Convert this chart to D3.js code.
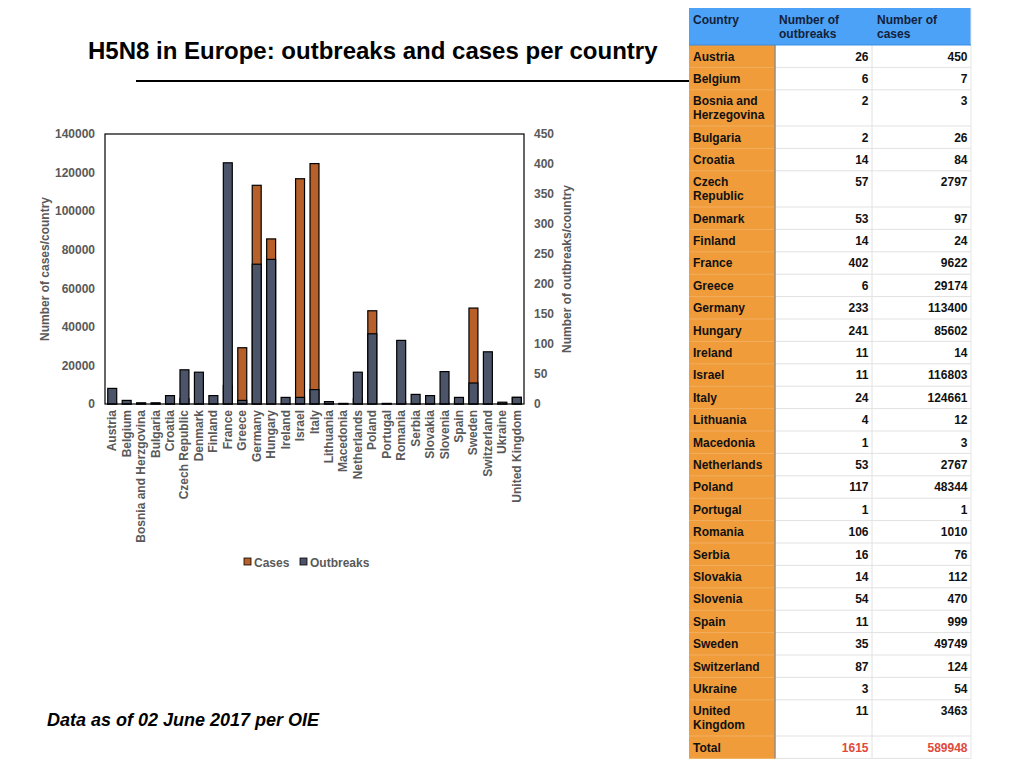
<!DOCTYPE html>
<html>
<head>
<meta charset="utf-8">
<script src="https://cdn.jsdelivr.net/npm/d3@7/dist/d3.min.js"></script>
<style>
  html, body { margin: 0; padding: 0; background: #fff; }
  svg { display: block; font-family: "Liberation Sans", Arial, Helvetica, sans-serif; }
</style>
</head>
<body>
<svg id="chart" width="1024" height="768"></svg>
<script>
// ---------------- DATA ----------------
const countries = ["Austria","Belgium","Bosnia and Herzgovina","Bulgaria","Croatia","Czech Republic","Denmark","Finland","France","Greece","Germany","Hungary","Ireland","Israel","Italy","Lithuania","Macedonia","Netherlands","Poland","Portugal","Romania","Serbia","Slovakia","Slovenia","Spain","Sweden","Switzerland","Ukraine","United Kingdom"];
const tableCountries = ["Austria","Belgium","Bosnia and Herzegovina","Bulgaria","Croatia","Czech Republic","Denmark","Finland","France","Greece","Germany","Hungary","Ireland","Israel","Italy","Lithuania","Macedonia","Netherlands","Poland","Portugal","Romania","Serbia","Slovakia","Slovenia","Spain","Sweden","Switzerland","Ukraine","United Kingdom"];
const outbreaks = [26,6,2,2,14,57,53,14,402,6,233,241,11,11,24,4,1,53,117,1,106,16,14,54,11,35,87,3,11];
const cases = [450,7,3,26,84,2797,97,24,9622,29174,113400,85602,14,116803,124661,12,3,2767,48344,1,1010,76,112,470,999,49749,124,54,3463];
const totalOutbreaks = 1615;
const totalCases = 589948;
const leftTicks = [0,20000,40000,60000,80000,100000,120000,140000];
const rightTicks = [0,50,100,150,200,250,300,350,400,450];
const tableHeaders = ["Country", "Number of outbreaks", "Number of cases"];

// ---------------- SETUP ----------------
const svg = d3.select("#chart");
const FONT = '"Liberation Sans", Arial, Helvetica, sans-serif';
const gray = "#595959";
const darkCol = "#4b5468";
const orangeCol = "#b8602a";

// Title
svg.append("text").attr("x", 88).attr("y", 59)
  .attr("font-size", 24).attr("font-weight", "bold").attr("fill", "#000")
  .text("H5N8 in Europe: outbreaks and cases per country");
svg.append("line").attr("x1", 136).attr("x2", 690).attr("y1", 81).attr("y2", 81)
  .attr("stroke", "#000").attr("stroke-width", 2);

// Footnote
svg.append("text").attr("x", 47).attr("y", 726)
  .attr("font-size", 18).attr("font-weight", "bold").attr("font-style", "italic").attr("fill", "#000")
  .text("Data as of 02 June 2017 per OIE");

// ---------------- CHART ----------------
const plot = {left: 105, right: 524, top: 134, bottom: 404};
const x = d3.scaleBand().domain(countries).range([plot.left, plot.right]).paddingInner(0.38).paddingOuter(0.19);
const yL = d3.scaleLinear().domain([0, 140000]).range([plot.bottom, plot.top]);
const yR = d3.scaleLinear().domain([0, 450]).range([plot.bottom, plot.top]);

const g = svg.append("g");

// Cases bars (left axis), drawn first
g.selectAll("rect.cases").data(countries).join("rect").attr("class", "cases")
  .attr("x", d => x(d)).attr("width", x.bandwidth())
  .attr("y", (d, i) => yL(cases[i])).attr("height", (d, i) => yL(0) - yL(cases[i]))
  .attr("fill", orangeCol).attr("stroke", "#000").attr("stroke-width", 1.2);

// Outbreaks bars (right axis), drawn on top
g.selectAll("rect.out").data(countries).join("rect").attr("class", "out")
  .attr("x", d => x(d)).attr("width", x.bandwidth())
  .attr("y", (d, i) => yR(outbreaks[i])).attr("height", (d, i) => yR(0) - yR(outbreaks[i]))
  .attr("fill", darkCol).attr("stroke", "#000").attr("stroke-width", 1.2);

// Plot frame
svg.append("rect").attr("x", plot.left).attr("y", plot.top)
  .attr("width", plot.right - plot.left).attr("height", plot.bottom - plot.top)
  .attr("fill", "none").attr("stroke", "#000").attr("stroke-width", 1.2);

// Left axis
const axL = svg.append("g").attr("transform", `translate(${plot.left},0)`)
  .call(d3.axisLeft(yL).tickValues(leftTicks).tickSize(0).tickPadding(10).tickFormat(d3.format("d")));
axL.select(".domain").remove();
axL.selectAll("text").attr("font-family", FONT).attr("font-size", 12).attr("font-weight", "bold").attr("fill", gray);

// Right axis
const axR = svg.append("g").attr("transform", `translate(${plot.right},0)`)
  .call(d3.axisRight(yR).tickValues(rightTicks).tickSize(0).tickPadding(10).tickFormat(d3.format("d")));
axR.select(".domain").remove();
axR.selectAll("text").attr("font-family", FONT).attr("font-size", 12).attr("font-weight", "bold").attr("fill", gray);

// Bottom axis labels
const axB = svg.append("g").attr("transform", `translate(0,${plot.bottom})`)
  .call(d3.axisBottom(x).tickSize(0).tickPadding(0));
axB.select(".domain").remove();
axB.selectAll("text")
  .attr("font-family", FONT).attr("font-size", 12).attr("font-weight", "bold").attr("fill", gray)
  .attr("text-anchor", "end").attr("dy", null).attr("y", 0)
  .attr("transform", "translate(4,6) rotate(-90)");

// Axis titles
svg.append("text").attr("transform", `translate(49,${(plot.top + plot.bottom) / 2}) rotate(-90)`)
  .attr("text-anchor", "middle").attr("font-size", 12).attr("font-weight", "bold").attr("fill", gray)
  .text("Number of cases/country");
svg.append("text").attr("transform", `translate(571,${(plot.top + plot.bottom) / 2}) rotate(-90)`)
  .attr("text-anchor", "middle").attr("font-size", 12).attr("font-weight", "bold").attr("fill", gray)
  .text("Number of outbreaks/country");

// Legend
const legend = [{label: "Cases", color: orangeCol, x: 244}, {label: "Outbreaks", color: darkCol, x: 300}];
const lg = svg.append("g").selectAll("g").data(legend).join("g")
  .attr("transform", d => `translate(${d.x},558)`);
lg.append("rect").attr("width", 7).attr("height", 7).attr("fill", d => d.color)
  .attr("stroke", "#000").attr("stroke-width", 0.8);
lg.append("text").attr("x", 10).attr("y", 8.5).attr("font-size", 12).attr("font-weight", "bold")
  .attr("fill", gray).text(d => d.label);

// ---------------- TABLE ----------------
const tbl = {x0: 689, x1: 775, x2: 872, x3: 971, top: 8, headH: 37};
const tg = svg.append("g");
const lineH = 14;
const padTop = 15.5;

// measure helper for wrapping
function wrapWords(text, maxW, size) {
  const t = svg.append("text").attr("font-size", size).attr("font-weight", "bold").attr("visibility", "hidden");
  const words = text.split(" ");
  const lines = [];
  let cur = "";
  words.forEach(w => {
    const test = cur ? cur + " " + w : w;
    t.text(test);
    if (t.node().getComputedTextLength() > maxW && cur) { lines.push(cur); cur = w; }
    else cur = test;
  });
  if (cur) lines.push(cur);
  t.remove();
  return lines;
}

// Header
tg.append("rect").attr("x", tbl.x0).attr("y", tbl.top).attr("width", tbl.x3 - tbl.x0).attr("height", tbl.headH)
  .attr("fill", "#4ba2f6");
const headX = [tbl.x0 + 4, tbl.x1 + 4, tbl.x2 + 5];
const headLines = [["Country"], ["Number of", "outbreaks"], ["Number of", "cases"]];
headLines.forEach((ls, ci) => {
  ls.forEach((l, li) => {
    tg.append("text").attr("x", headX[ci]).attr("y", tbl.top + 16 + li * 13.5)
      .attr("font-size", 12).attr("font-weight", "bold").attr("fill", "#14213a").text(l);
  });
});

// Rows
const rows = tableCountries.map((c, i) => ({name: c, o: outbreaks[i], c: cases[i], total: false}));
rows.push({name: "Total", o: totalOutbreaks, c: totalCases, total: true});
let yCur = tbl.top + tbl.headH;
rows.forEach(r => {
  r.lines = wrapWords(r.name, 74, 12);
  r.y = yCur;
  r.h = 8.6 + r.lines.length * 13.8;
  yCur += r.h;
});
const tableBottom = yCur;

// orange column
tg.append("rect").attr("x", tbl.x0).attr("y", tbl.top + tbl.headH).attr("width", tbl.x1 - tbl.x0)
  .attr("height", tableBottom - tbl.top - tbl.headH).attr("fill", "#f09c3a");

const rg = tg.selectAll("g.row").data(rows).join("g").attr("class", "row");
// row separators
rg.append("line").attr("x1", tbl.x1).attr("x2", tbl.x3).attr("y1", d => d.y + d.h).attr("y2", d => d.y + d.h)
  .attr("stroke", "#e2e2e2").attr("stroke-width", 1);
rg.append("line").attr("x1", tbl.x0).attr("x2", tbl.x1).attr("y1", d => d.y + d.h).attr("y2", d => d.y + d.h)
  .attr("stroke", "#f3ae5e").attr("stroke-width", 1);
// names
rg.each(function(d) {
  const s = d3.select(this);
  d.lines.forEach((l, li) => {
    s.append("text").attr("x", tbl.x0 + 4).attr("y", d.y + padTop + li * lineH)
      .attr("font-size", 12).attr("font-weight", "bold").attr("fill", "#111").text(l);
  });
});
rg.append("text").attr("x", tbl.x2 - 3.5).attr("y", d => d.y + padTop).attr("text-anchor", "end")
  .attr("font-size", 12).attr("font-weight", "bold").attr("fill", d => d.total ? "#e04a3c" : "#111").text(d => d.o);
rg.append("text").attr("x", tbl.x3 - 3.5).attr("y", d => d.y + padTop).attr("text-anchor", "end")
  .attr("font-size", 12).attr("font-weight", "bold").attr("fill", d => d.total ? "#e04a3c" : "#111").text(d => d.c);

// vertical lines
tg.append("line").attr("x1", tbl.x1).attr("x2", tbl.x1).attr("y1", tbl.top + tbl.headH).attr("y2", tableBottom)
  .attr("stroke", "#9a8a78").attr("stroke-width", 1.5);
tg.append("line").attr("x1", tbl.x2).attr("x2", tbl.x2).attr("y1", tbl.top + tbl.headH).attr("y2", tableBottom)
  .attr("stroke", "#e2e2e2").attr("stroke-width", 1);
tg.append("line").attr("x1", tbl.x3).attr("x2", tbl.x3).attr("y1", tbl.top).attr("y2", tableBottom)
  .attr("stroke", "#e6e6e6").attr("stroke-width", 1);
tg.append("line").attr("x1", tbl.x0).attr("x2", tbl.x3).attr("y1", tbl.top + tbl.headH).attr("y2", tbl.top + tbl.headH)
  .attr("stroke", "#3b8de0").attr("stroke-width", 1);
</script>
</body>
</html>
